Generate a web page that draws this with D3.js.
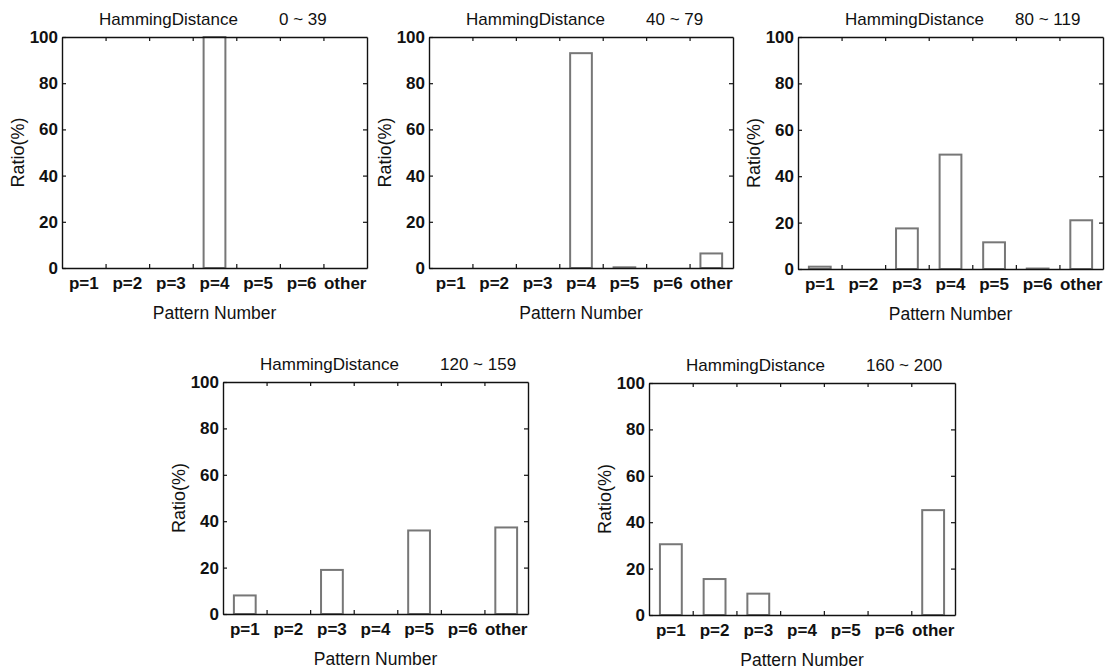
<!DOCTYPE html>
<html>
<head>
<meta charset="utf-8">
<script src="https://cdn.jsdelivr.net/npm/d3@7"></script>
<style>
  html, body { margin: 0; padding: 0; background: #fff; }
  svg { display: block; }
  text { font-family: "Liberation Sans", Arial, Helvetica, sans-serif; fill: #111; }
</style>
</head>
<body>
<svg id="chart" width="1107" height="672"></svg>
<script>
// ---- data ----
const categories = ["p=1", "p=2", "p=3", "p=4", "p=5", "p=6", "other"];
const titleMain = "HammingDistance";
const ranges = ["0 ~ 39", "40 ~ 79", "80 ~ 119", "120 ~ 159", "160 ~ 200"];
const values1 = [0, 0, 0, 100, 0, 0, 0];
const values2 = [0, 0, 0, 93, 0.3, 0, 6.3];
const values3 = [1, 0, 17.5, 49.3, 11.5, 0.2, 21];
const values4 = [8, 0, 19, 0, 36, 0, 37.3];
const values5 = [30.5, 15.5, 9.2, 0, 0, 0, 45.2];
const yTicks = [0, 20, 40, 60, 80, 100];
const xLabel = "Pattern Number";
const yLabel = "Ratio(%)";

const allValues = [values1, values2, values3, values4, values5];

// ---- layout ----
const frames = [
  { left: 62,  top: 37,  right: 367, bottom: 268, titleDx: 37 },
  { left: 429, top: 37,  right: 733, bottom: 268, titleDx: 37 },
  { left: 798, top: 37,  right: 1103, bottom: 269, titleDx: 47 },
  { left: 223, top: 382, right: 528, bottom: 614, titleDx: 37 },
  { left: 649, top: 383, right: 955, bottom: 615, titleDx: 37 }
];

const svg = d3.select("#chart");
svg.append("rect").attr("width", 1107).attr("height", 672).attr("fill", "#fff");

frames.forEach((f, i) => {
  const w = f.right - f.left, h = f.bottom - f.top;
  const g = svg.append("g").attr("transform", `translate(${f.left},${f.top})`);
  const x = d3.scaleBand().domain(categories).range([0, w]).padding(0);
  const xb = d3.scaleLinear().domain([0, categories.length]).range([0, w]);
  const y = d3.scaleLinear().domain([0, 100]).range([h, 0]);
  const data = allValues[i];

  // bars
  const bw = x.bandwidth() * 0.5;
  g.selectAll("rect.bar").data(categories.map((c, k) => ({ c, v: data[k] })).filter(d => d.v > 0))
    .join("rect").attr("class", "bar")
    .attr("x", d => x(d.c) + (x.bandwidth() - bw) / 2)
    .attr("width", bw)
    .attr("y", d => y(d.v))
    .attr("height", d => h - y(d.v))
    .attr("fill", "#fff")
    .attr("stroke", "#777")
    .attr("stroke-width", 2);

  // left axis with labels
  const ya = g.append("g").call(d3.axisLeft(y).tickValues(yTicks).tickSizeInner(-4).tickSizeOuter(0).tickPadding(4));
  ya.selectAll("text").style("font-size", "17px").style("font-weight", "bold").attr("fill", "#111");
  // right axis ticks
  const yr = g.append("g").attr("transform", `translate(${w},0)`)
    .call(d3.axisRight(y).tickValues(yTicks.slice(1, -1)).tickSizeInner(-4).tickSizeOuter(0).tickFormat(""));
  // bottom ticks at category boundaries
  const bounds = d3.range(1, categories.length);
  const xbAxis = g.append("g").attr("transform", `translate(0,${h})`)
    .call(d3.axisBottom(xb).tickValues(bounds).tickSizeInner(-4).tickSizeOuter(0).tickFormat(""));
  const xtAxis = g.append("g")
    .call(d3.axisTop(xb).tickValues(bounds).tickSizeInner(-4).tickSizeOuter(0).tickFormat(""));
  // category labels
  const xl = g.append("g").attr("transform", `translate(0,${h})`)
    .call(d3.axisBottom(x).tickSize(0).tickPadding(9));
  xl.select(".domain").remove();
  xl.selectAll("text").style("font-size", "17px").style("font-weight", "bold").attr("fill", "#111");

  [ya, yr, xbAxis, xtAxis].forEach(a => {
    a.select(".domain").attr("stroke", "#111").attr("stroke-width", 1.4);
    a.selectAll(".tick line").attr("stroke", "#111").attr("stroke-width", 1.2);
  });

  // titles
  g.append("text").attr("x", f.titleDx).attr("y", -12)
    .style("font-size", "17px").text(titleMain);
  g.append("text").attr("x", 217).attr("y", -12)
    .style("font-size", "17px").text(ranges[i]);
  g.append("text").attr("x", w / 2).attr("y", h + 51).attr("text-anchor", "middle")
    .style("font-size", "17.5px").text(xLabel);
  g.append("text").attr("transform", `translate(-38,${h / 2}) rotate(-90)`).attr("text-anchor", "middle")
    .style("font-size", "18px").text(yLabel);
});
</script>
</body>
</html>
